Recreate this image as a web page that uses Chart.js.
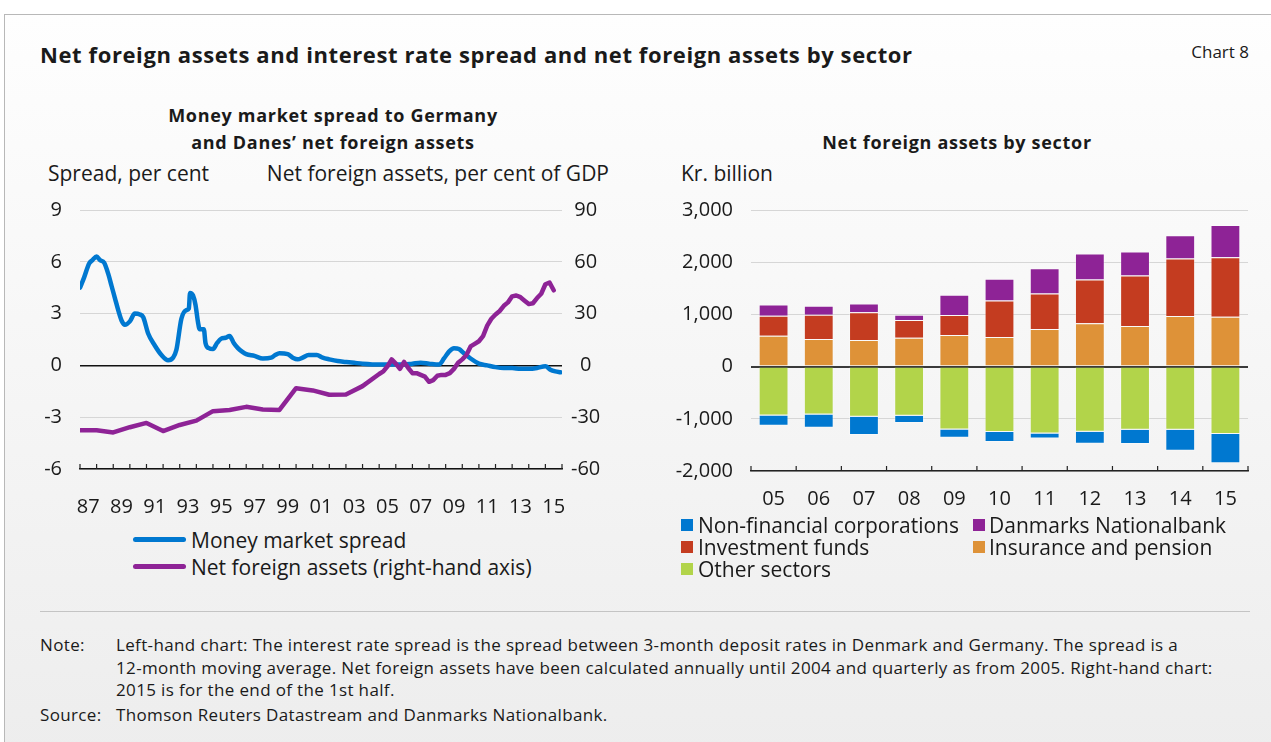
<!DOCTYPE html>
<html>
<head>
<meta charset="utf-8">
<script src="https://cdn.jsdelivr.net/npm/chart.js@4.4.1/dist/chart.umd.min.js"></script>
<style>
  body { margin: 0; width: 1271px; height: 742px; overflow: hidden; background: #fff;
         font-family: "Open Sans", sans-serif; color: #1a1a1a; position: relative; }
  #card { position: absolute; left: 4px; top: 14px; width: 1300px; height: 740px;
          border-top: 1px solid #b8b8b8; border-left: 1px solid #b8b8b8;
          background: linear-gradient(#fefefe, #ededed); }
  .t { position: absolute; white-space: nowrap; }
  .title { left: 40px; top: 39px; font-size: 22px; line-height: 30px; font-weight: 700; letter-spacing: 0.6px; }
  .chartno { right: 22px; top: 40px; font-size: 17px; line-height: 24px; }
  .sub { font-size: 18px; line-height: 27px; font-weight: 700; text-align: center; letter-spacing: 0.7px; }
  .axt { font-size: 21px; line-height: 28px; top: 159px; }
  .leg { font-size: 21px; line-height: 28px; }
  .line { position: absolute; width: 53px; height: 5px; border-radius: 3px; }
  .sq { position: absolute; width: 12px; height: 12px; }
  .note { font-size: 17px; line-height: 22.5px; letter-spacing: 0.35px; }
  canvas { position: absolute; }
</style>
</head>
<body>
<div id="card"></div>

<div class="t title">Net foreign assets and interest rate spread and net foreign assets by sector</div>
<div class="t chartno">Chart 8</div>

<div class="t sub" style="left:133px; width:400px; top:102px;">Money market spread to Germany<br>and Danes’ net foreign assets</div>
<div class="t sub" style="left:757px; width:400px; top:129px;">Net foreign assets by sector</div>

<div class="t axt" style="left:48px;">Spread, per cent</div>
<div class="t axt" style="right:662px;">Net foreign assets, per cent of GDP</div>
<div class="t axt" style="left:681px;">Kr. billion</div>

<canvas id="left" width="590" height="324" style="left:30px; top:196px;"></canvas>
<canvas id="right" width="600" height="324" style="left:660px; top:196px;"></canvas>

<div class="line" style="left:133px; top:537px; background:#0078d0;"></div>
<div class="t leg" style="left:191px; top:526px;">Money market spread</div>
<div class="line" style="left:133px; top:564px; background:#8e2396;"></div>
<div class="t leg" style="left:191px; top:553px;">Net foreign assets (right-hand axis)</div>

<div class="sq" style="left:681px; top:519px; background:#0078d0;"></div>
<div class="t leg" style="left:698px; top:511px;">Non-financial corporations</div>
<div class="sq" style="left:973px; top:519px; background:#8e2396;"></div>
<div class="t leg" style="left:989px; top:511px;">Danmarks Nationalbank</div>
<div class="sq" style="left:681px; top:541px; background:#c43c20;"></div>
<div class="t leg" style="left:698px; top:533px;">Investment funds</div>
<div class="sq" style="left:973px; top:541px; background:#de9238;"></div>
<div class="t leg" style="left:989px; top:533px;">Insurance and pension</div>
<div class="sq" style="left:681px; top:563px; background:#b2d44a;"></div>
<div class="t leg" style="left:698px; top:555px;">Other sectors</div>

<div style="position:absolute; left:40px; top:611px; width:1210px; height:1px; background:#c4c4c4;"></div>

<div class="t note" style="left:40px; top:634px;">Note:</div>
<div class="t note" style="left:116px; top:634px;">Left-hand chart: The interest rate spread is the spread between 3-month deposit rates in Denmark and Germany. The spread is a<br>12-month moving average. Net foreign assets have been calculated annually until 2004 and quarterly as from 2005. Right-hand chart:<br>2015 is for the end of the 1st half.</div>
<div class="t note" style="left:40px; top:704px;">Source:</div>
<div class="t note" style="left:116px; top:704px;">Thomson Reuters Datastream and Danmarks Nationalbank.</div>

<script>
// left chart: money market spread (per cent)
const spreadYears = [1987.0, 1987.25, 1987.55, 1987.75, 1988.0, 1988.2, 1988.45, 1988.7, 1988.9, 1989.1,
  1989.3, 1989.5, 1989.7, 1990.0, 1990.3, 1990.6, 1990.8, 1991.1, 1991.5, 1991.9,
  1992.3, 1992.6, 1992.8, 1993.1, 1993.4, 1993.55, 1993.62, 1993.8, 1993.95, 1994.1,
  1994.2, 1994.45, 1994.55, 1994.75, 1995.0, 1995.25, 1995.5, 1995.75, 1996.0, 1996.25,
  1996.5, 1996.75, 1997.0, 1997.5, 1998.0, 1998.5, 1998.75, 1999.0, 1999.5, 1999.8,
  2000.1, 2000.4, 2000.75, 2001.25, 2001.6, 2002.0, 2002.5, 2003.0, 2003.5, 2004.0,
  2005.0, 2006.0, 2006.5, 2007.0, 2007.5, 2008.0, 2008.6, 2008.9, 2009.2, 2009.5,
  2009.8, 2010.1, 2010.5, 2011.0, 2011.5, 2012.0, 2012.5, 2013.0, 2013.5, 2014.0,
  2014.5, 2015.0, 2015.3, 2015.6, 2015.9];
const spreadValues = [4.5, 5.1, 5.9, 6.1, 6.3, 6.1, 5.95, 5.3, 4.6, 3.9,
  3.2, 2.6, 2.35, 2.55, 3.0, 2.95, 2.8, 1.85, 1.15, 0.6,
  0.3, 0.45, 0.9, 2.7, 3.2, 3.3, 4.2, 4.05, 3.5, 2.5,
  2.1, 2.1, 1.3, 1.0, 0.95, 1.3, 1.55, 1.6, 1.7, 1.3,
  1.0, 0.8, 0.65, 0.55, 0.4, 0.45, 0.6, 0.7, 0.65, 0.45,
  0.35, 0.45, 0.6, 0.6, 0.45, 0.35, 0.25, 0.2, 0.15, 0.1,
  0.05, 0.05, 0.05, 0.1, 0.15, 0.1, 0.05, 0.4, 0.8, 1.0,
  0.95, 0.7, 0.4, 0.1, 0.0, -0.1, -0.15, -0.15, -0.2, -0.2,
  -0.15, -0.05, -0.25, -0.35, -0.4];

// net foreign assets, per cent of GDP: annual to 2004, quarterly from 2005
const nfaYears = [1987, 1988, 1989, 1990, 1991, 1992, 1993, 1994, 1995, 1996,
  1997, 1998, 1999, 2000, 2001, 2002, 2003, 2004,
  2005.0, 2005.25, 2005.5, 2005.75, 2006.0, 2006.25, 2006.5, 2006.75,
  2007.0, 2007.25, 2007.5, 2007.75, 2008.0, 2008.25, 2008.5, 2008.75,
  2009.0, 2009.25, 2009.5, 2009.75, 2010.0, 2010.25, 2010.5, 2010.75,
  2011.0, 2011.25, 2011.5, 2011.75, 2012.0, 2012.25, 2012.5, 2012.75,
  2013.0, 2013.25, 2013.5, 2013.75, 2014.0, 2014.25, 2014.5, 2014.75,
  2015.0, 2015.25, 2015.5];
const nfaValues = [-37.6, -37.6, -38.8, -35.8, -33.3, -38, -34.5, -32, -26.5, -25.8,
  -24, -25.5, -25.8, -13.2, -14.5, -17, -16.8, -12,
  -5, -3.5, -0.5, 3.5, 1.0, -2.0, 2.0, -1.5,
  -4.5, -4.5, -5.5, -6.5, -9.5, -8.5, -6.0, -5.5,
  -5.5, -4.5, -2, 1.5, 3.5, 6, 11, 12.5,
  14, 17, 23, 27, 29.5, 31.5, 34.5, 36.5,
  40, 40.5, 39.5, 37.5, 35.5, 36, 39, 41.5,
  47, 48, 43.5];

// right chart: net foreign assets by sector, kr. billion
const sectorYears = ['05', '06', '07', '08', '09', '10', '11', '12', '13', '14', '15'];
const insurancePension = [593, 529, 510, 554, 606, 567, 720, 829, 778, 969, 955];
const investmentFunds = [382, 465, 529, 338, 382, 701, 682, 841, 968, 1102, 1141];
const nationalbank = [217, 172, 172, 102, 388, 413, 484, 496, 459, 445, 617];
const otherSectors = [-936, -917, -961, -942, -1203, -1254, -1280, -1248, -1209, -1209, -1292];
const nonFinancial = [-197, -254, -350, -140, -159, -191, -96, -229, -274, -402, -561];

const BLUE = '#0078d0', PURPLE = '#8e2396', RED = '#c43c20', ORANGE = '#de9238', GREEN = '#b2d44a';
const tickFont = { family: '"Open Sans", sans-serif', size: 20 };
const textColor = '#1a1a1a';

// keep the plot top 14px below the canvas top, whatever the tick padding
const fixPad = w => s => { s.width = w; s.paddingTop = 14; s.paddingBottom = 0; };

// small tick marks pointing up from the bottom axis
const upTicks = {
  id: 'upTicks',
  afterDraw(chart, args, opts) {
    const sc = chart.scales.x;
    const ctx = chart.ctx;
    const bottom = chart.chartArea.bottom;
    let xs;
    if (opts.boundaries) {
      const n = chart.data.labels.length;
      xs = [];
      for (let i = 0; i <= n; i++) xs.push(sc.left + i * sc.width / n);
    } else {
      xs = sc.ticks.map(t => sc.getPixelForValue(t.value));
    }
    ctx.save();
    ctx.strokeStyle = '#222';
    ctx.lineWidth = 1.2;
    ctx.beginPath();
    xs.forEach(x => { ctx.moveTo(x, bottom); ctx.lineTo(x, bottom - 5); });
    ctx.stroke();
    ctx.restore();
  }
};

new Chart(document.getElementById('left'), {
  type: 'line',
  data: {
    datasets: [{
      label: 'Money market spread',
      data: spreadYears.map((x, i) => ({ x: x, y: spreadValues[i] })),
      yAxisID: 'y',
      borderColor: BLUE,
      borderWidth: 4.5,
      pointRadius: 0,
      cubicInterpolationMode: 'monotone',
      borderCapStyle: 'round',
      order: 2
    }, {
      label: 'Net foreign assets (right-hand axis)',
      data: nfaYears.map((x, i) => ({ x: x, y: nfaValues[i] })),
      yAxisID: 'y2',
      borderColor: PURPLE,
      borderWidth: 4.5,
      pointRadius: 0,
      tension: 0,
      borderCapStyle: 'round',
      borderJoinStyle: 'round',
      order: 1
    }]
  },
  options: {
    responsive: false,
    animation: false,
    layout: { padding: 0 },
    plugins: { legend: { display: false }, tooltip: { enabled: false }, upTicks: {} },
    scales: {
      x: {
        type: 'linear', min: 1987, max: 2016,
        afterFit: s => { s.height = 51; },
        grid: { drawOnChartArea: false, drawTicks: false },
        border: { color: '#111', width: 1.5 },
        ticks: {
          stepSize: 1, autoSkip: false, maxRotation: 0, labelOffset: 8.3, padding: 26,
          font: tickFont, color: textColor,
          callback: v => (v % 2 ? String(v).slice(2) : '')
        }
      },
      y: {
        position: 'left', min: -6, max: 9,
        afterFit: fixPad(50),
        ticks: { stepSize: 3, padding: 18, font: tickFont, color: textColor },
        grid: {
          drawTicks: false,
          color: c => (c.tick.value === 0 ? '#111' : '#d6d6d6'),
          lineWidth: c => (c.tick.value === 0 ? 1.4 : 1)
        },
        border: { display: false }
      },
      y2: {
        position: 'right', min: -60, max: 90,
        afterFit: fixPad(58),
        ticks: { stepSize: 30, padding: 1, crossAlign: 'center', font: tickFont, color: textColor },
        grid: { display: false },
        border: { display: false }
      }
    }
  },
  plugins: [upTicks]
});

const barDs = (label, data, color) => ({
  label: label, data: data, backgroundColor: color,
  borderColor: 'rgba(255,255,255,0.35)', borderWidth: 1,
  barPercentage: 0.66, categoryPercentage: 1
});

new Chart(document.getElementById('right'), {
  type: 'bar',
  data: {
    labels: sectorYears,
    datasets: [
      barDs('Insurance and pension', insurancePension, ORANGE),
      barDs('Investment funds', investmentFunds, RED),
      barDs('Danmarks Nationalbank', nationalbank, PURPLE),
      barDs('Other sectors', otherSectors, GREEN),
      barDs('Non-financial corporations', nonFinancial, BLUE)
    ]
  },
  options: {
    responsive: false,
    animation: false,
    layout: { padding: { top: 0, right: 12 } },
    plugins: { legend: { display: false }, tooltip: { enabled: false }, upTicks: { boundaries: true } },
    scales: {
      x: {
        stacked: true,
        afterFit: s => { s.height = 49; },
        grid: { drawOnChartArea: false, drawTicks: false },
        border: { color: '#222', width: 1.5 },
        ticks: { padding: 16, font: tickFont, color: textColor, maxRotation: 0 }
      },
      y: {
        stacked: true, min: -2000, max: 3000,
        afterFit: fixPad(91),
        ticks: { stepSize: 1000, padding: 18, font: tickFont, color: textColor,
                 callback: v => v.toLocaleString('en-US') },
        grid: {
          drawTicks: false,
          color: c => (c.tick.value === 0 ? '#3a3a3a' : '#d6d6d6'),
          lineWidth: c => (c.tick.value === 0 ? 2 : 1)
        },
        border: { display: false }
      }
    }
  },
  plugins: [upTicks]
});
</script>
</body>
</html>
